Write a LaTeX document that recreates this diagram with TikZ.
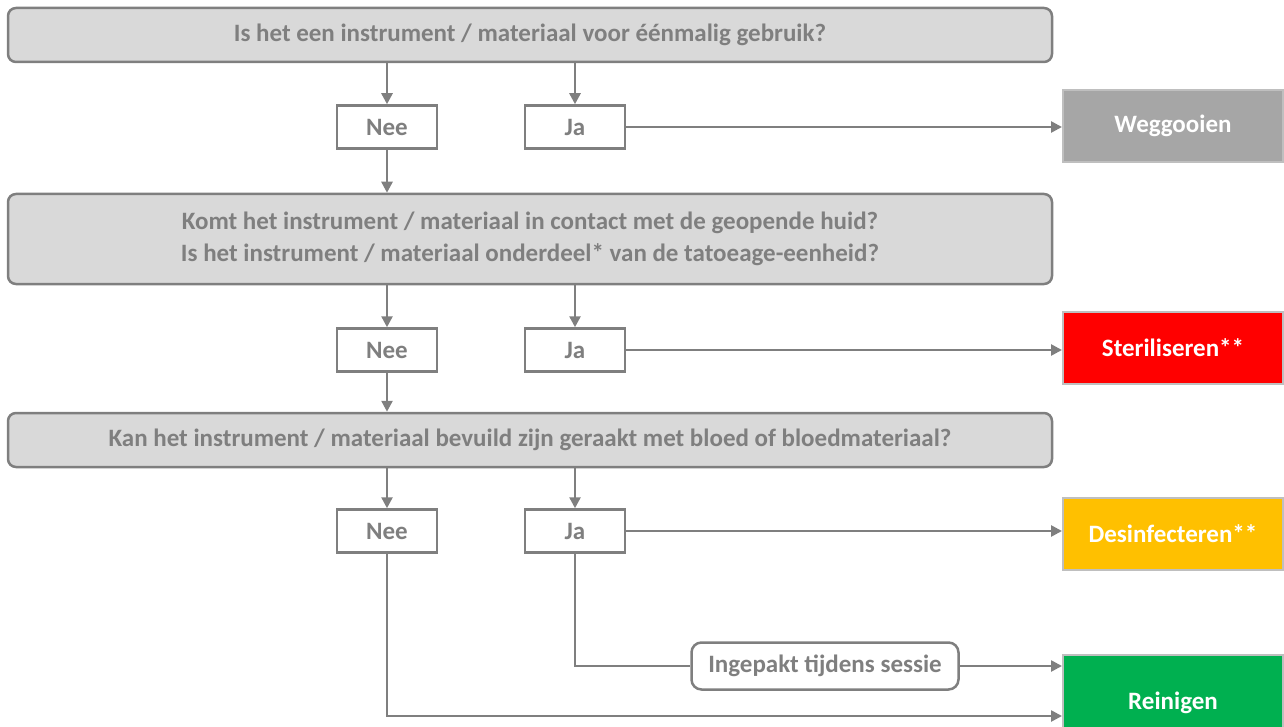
\documentclass[tikz,border=0pt]{standalone}
\usepackage{fontspec}
\setmainfont{Carlito}
\usetikzlibrary{arrows.meta}
\definecolor{linegray}{HTML}{7F7F7F}
\definecolor{boxgray}{HTML}{D9D9D9}
\definecolor{edgegray}{HTML}{BFBFBF}
\definecolor{weggray}{HTML}{A6A6A6}
\definecolor{sterred}{HTML}{FF0000}
\definecolor{desyellow}{HTML}{FFC000}
\definecolor{reingreen}{HTML}{00B050}

\begin{document}
\begin{tikzpicture}[x=1pt, y=-1pt, every node/.style = {font=\bfseries\fontsize{25}{32}\selectfont, text=linegray, line width=2.5pt},
					>={Triangle[length=11pt, width=11pt]}]
\useasboundingbox (0,0) rectangle (1284,727);

\tikzstyle{question} = [rectangle, rounded corners=8pt, draw=linegray, fill=boxgray, minimum width=1044pt, align=center]
\tikzstyle{answer} = [rectangle, draw=linegray, fill=white, minimum width=100pt, minimum height=43pt]
\tikzstyle{result} = [rectangle, draw=edgegray, line width=2pt, minimum width=220pt, minimum height=72pt, text=white]
\tikzstyle{flow} = [draw=linegray, line width=2.5pt]

% vragen
\node[question, minimum height=54pt] (q1) at (530,35) {Is het een instrument / materiaal voor éénmalig gebruik?};
\node[question, minimum height=90pt] (q2) at (530,239) {Komt het instrument / materiaal in contact met de geopende huid?\\Is het instrument / materiaal onderdeel* van de tatoeage-eenheid?};
\node[question, minimum height=54pt] (q3) at (530,440) {Kan het instrument / materiaal bevuild zijn geraakt met bloed of bloedmateriaal?};

% antwoorden
\node[answer] (n1) at (387,127) {Nee};
\node[answer] (j1) at (575,127) {Ja};
\node[answer] (n2) at (387,350) {Nee};
\node[answer] (j2) at (575,350) {Ja};
\node[answer] (n3) at (387,531) {Nee};
\node[answer] (j3) at (575,531) {Ja};
\node[answer, rounded corners=10pt, minimum width=267pt, minimum height=47pt] (pak) at (825,666) {Ingepakt tijdens sessie};

% uitkomsten (Reinigen loopt door onder de rand)
\node[result, fill=weggray] (r1) at (1173,126) {Weggooien};
\node[result, fill=sterred] (r2) at (1173,348) {Steriliseren**};
\node[result, fill=desyellow] (r3) at (1173,534) {Desinfecteren**};
\node[result, fill=reingreen, minimum height=96pt] (r4) at (1173,703) {Reinigen};

% pijlen
\draw[flow, ->] (q1.south -| n1) -- (n1.north);
\draw[flow, ->] (q1.south -| j1) -- (j1.north);
\draw[flow, ->] (j1.east) -- (j1.east -| r1.west);
\draw[flow, ->] (n1.south) -- (q2.north -| n1);
\draw[flow, ->] (q2.south -| n2) -- (n2.north);
\draw[flow, ->] (q2.south -| j2) -- (j2.north);
\draw[flow, ->] (j2.east) -- (j2.east -| r2.west);
\draw[flow, ->] (n2.south) -- (q3.north -| n2);
\draw[flow, ->] (q3.south -| n3) -- (n3.north);
\draw[flow, ->] (q3.south -| j3) -- (j3.north);
\draw[flow, ->] (j3.east) -- (j3.east -| r3.west);
\draw[flow] (j3.south) |- (pak.west);
\draw[flow, ->] (pak.east) -- ([yshift=37pt]r4.west);
\draw[flow, ->] (n3.south) |- ([yshift=-13pt]r4.west);
\end{tikzpicture}
\end{document}
